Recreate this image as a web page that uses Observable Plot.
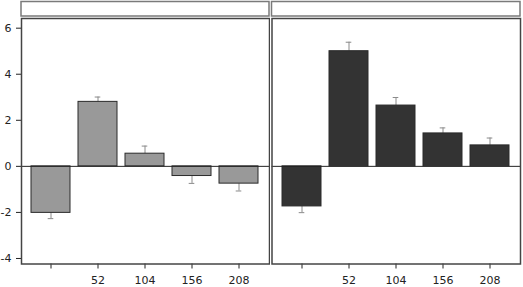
<!DOCTYPE html>
<html>
<head>
<meta charset="utf-8">
<script src="https://cdn.jsdelivr.net/npm/d3@7"></script>
<script src="https://cdn.jsdelivr.net/npm/@observablehq/plot@0.6"></script>
<style>
  body { margin: 0; background: #fff; }
  #wrap { display: flex; width: 523px; height: 287px; }
</style>
</head>
<body>
<div id="wrap"></div>
<script>
// Tick labels / categories (first tick unlabeled)
const categories = ["", "52", "104", "156", "208"];
// Left panel: bar values and one-sided error sizes
const leftValues = [-2.02, 2.80, 0.55, -0.42, -0.75];
const leftErrors = [0.25, 0.21, 0.33, 0.32, 0.32];
// Right panel
const rightValues = [-1.74, 5.00, 2.64, 1.43, 0.91];
const rightErrors = [0.27, 0.39, 0.35, 0.24, 0.32];
const yTicks = [-4, -2, 0, 2, 4, 6];

function rows(values, errors) {
  return categories.map((c, i) => ({
    cat: c,
    value: values[i],
    tip: values[i] + Math.sign(values[i]) * errors[i]
  }));
}

function strip(index, scales, values, dims) {
  const d = dims || {};
  return d3.create("svg:rect")
    .attr("x", d.marginLeft)
    .attr("y", 1.5)
    .attr("width", d.width - d.marginLeft - d.marginRight)
    .attr("height", 14.5)
    .attr("fill", "#fff")
    .attr("stroke", "#7a7a7a")
    .attr("stroke-width", 1.5)
    .node();
}

function panel(data, fill, opts) {
  return Plot.plot({
    width: opts.width,
    height: 287,
    marginTop: 18,
    marginBottom: 23.5,
    marginLeft: opts.marginLeft,
    marginRight: opts.marginRight,
    style: { fontFamily: "DejaVu Sans", fontSize: "11px", background: "#fff", color: "#222" },
    x: {
      domain: categories, paddingInner: 0.16, paddingOuter: 0.19,
      label: null, tickSize: 5, tickPadding: 7
    },
    y: {
      domain: [-4.24, 6.42], ticks: yTicks, label: null,
      tickSize: 5, tickPadding: 5, tickFormat: d => String(d),
      axis: opts.yAxis ? "left" : null
    },
    marks: [
      Plot.ruleX(data, { x: "cat", y1: "value", y2: "tip", stroke: "#8a8a8a", strokeWidth: 1 }),
      Plot.tickY(data, { x: "cat", y: "tip", stroke: "#8a8a8a", strokeWidth: 1, insetLeft: 16.7, insetRight: 16.7 }),
      Plot.barY(data, { x: "cat", y1: 0, y2: "value", fill: fill, stroke: "#2a2a2a", strokeWidth: 1 }),
      Plot.ruleY([0], { stroke: "#222", strokeWidth: 1 }),
      Plot.frame({ stroke: "#444", strokeWidth: 1.5 }),
      strip
    ]
  });
}

const wrap = document.getElementById("wrap");
wrap.appendChild(panel(rows(leftValues, leftErrors), "#999999",
  { width: 270, marginLeft: 21, marginRight: 1, yAxis: true }));
wrap.appendChild(panel(rows(rightValues, rightErrors), "#333333",
  { width: 253, marginLeft: 1.5, marginRight: 3, yAxis: false }));
</script>
</body>
</html>
